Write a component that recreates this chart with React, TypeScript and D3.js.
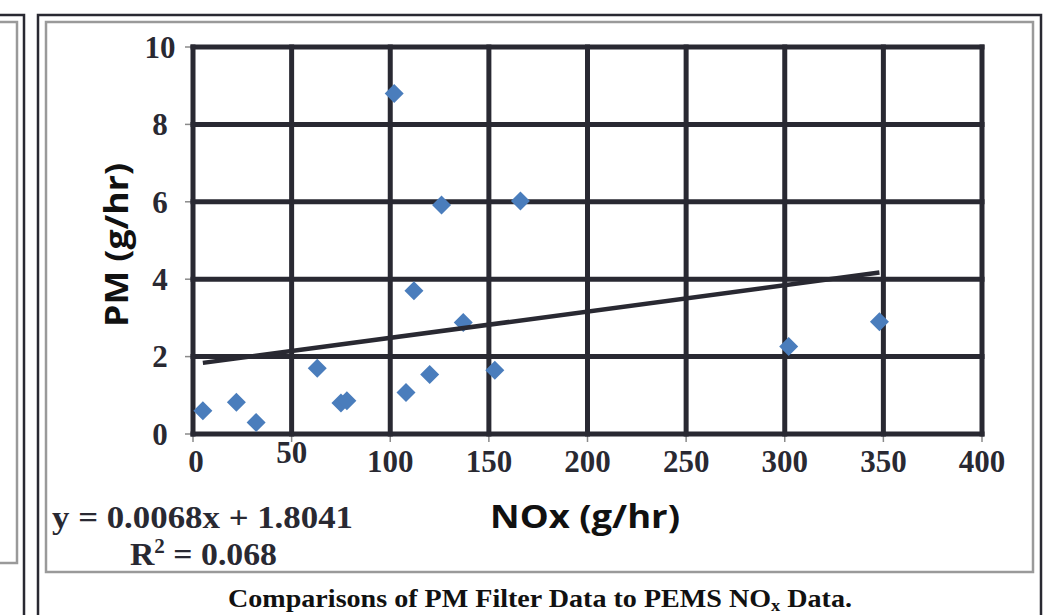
import React from "react";
import * as d3 from "d3";

// NOx (g/hr) vs PM (g/hr)
const noxValues = [5, 22, 32, 63, 75, 78, 102, 108, 112, 120, 126, 137, 153, 166, 302, 348];
const pmValues = [0.6, 0.82, 0.3, 1.7, 0.8, 0.86, 8.8, 1.07, 3.7, 1.54, 5.92, 2.88, 1.65, 6.02, 2.26, 2.9];
const xTicks = [0, 50, 100, 150, 200, 250, 300, 350, 400];
const yTicks = [0, 2, 4, 6, 8, 10];
const slope = 0.0068;
const intercept = 1.8041;

const W = 1051;
const H = 615;
const ink = "#292932";
const serif = "'Liberation Serif', 'Times New Roman', serif";
const sans = "'Open Sans', 'Noto Sans', sans-serif";

export default function App() {
  const x = d3.scaleLinear().domain([0, 400]).range([193, 982]);
  const y = d3.scaleLinear().domain([0, 10]).range([434, 47]);

  const pts = noxValues.map((v, i) => ({ nx: v, pm: pmValues[i] }));
  const xMin = d3.min(noxValues) as number;
  const xMax = d3.max(noxValues) as number;
  const trend = d3.line<number>()
    .x(d => x(d))
    .y(d => y(slope * d + intercept))([xMin, xMax]);

  const r = 9.5;
  const diamond = `M0,${-r}L${r},0L0,${r}L${-r},0Z`;

  return (
    <svg width={W} height={H} style={{ position: "absolute", left: 0, top: 0, background: "white" }}>
      {/* page frames */}
      <g fill="none">
        <path d="M0,15H24V615" stroke={ink} strokeWidth={2.5} />
        <path d="M0,22H17V563H0" stroke="#9a9a9a" strokeWidth={2.5} />
        <path d="M38,615V15H1041V615" stroke={ink} strokeWidth={2.5} />
        <path d="M46,572V22H1033V572Z" stroke="#9a9a9a" strokeWidth={2.5} />
      </g>

      {/* small ticks */}
      <g stroke="#8a8a8a" strokeWidth={1.5}>
        {yTicks.map(t => <line key={"yt" + t} x1={185} x2={193} y1={y(t)} y2={y(t)} />)}
        {xTicks.map(t => <line key={"xt" + t} x1={x(t)} x2={x(t)} y1={434} y2={442} />)}
      </g>

      {/* heavy grid */}
      <g stroke={ink} strokeWidth={5} strokeLinecap="square">
        {yTicks.map(t => <line key={"gy" + t} x1={x(0)} x2={x(400)} y1={y(t)} y2={y(t)} />)}
        {xTicks.map(t => <line key={"gx" + t} x1={x(t)} x2={x(t)} y1={y(0)} y2={y(10)} />)}
      </g>

      {/* points */}
      <g fill="#4a7dbc">
        {pts.map((p, i) => (
          <path key={i} d={diamond} transform={`translate(${x(p.nx)},${y(p.pm)})`} />
        ))}
      </g>

      {/* trend line */}
      <path d={trend ?? ""} fill="none" stroke={ink} strokeWidth={4.5} />

      {/* tick labels */}
      <g fontFamily={serif} fontWeight="bold" fontSize={31} fill={ink}>
        {yTicks.map(t => (
          <text key={"yl" + t} x={160} y={y(t)} dy="0.35em" textAnchor="middle">{t}</text>
        ))}
        {xTicks.map(t => (
          <text key={"xl" + t} x={x(t) + (t === 0 ? 3 : 0)} y={t === 50 ? 463 : 472} textAnchor="middle">{t}</text>
        ))}
      </g>

      {/* axis titles */}
      <text x={585} y={528} textAnchor="middle" fontFamily={sans} fontWeight="bold" fontSize={33}
        textLength={190} lengthAdjust="spacingAndGlyphs" fill="#111">NOx (g/hr)</text>
      <text transform="translate(128,245) rotate(-90)" textAnchor="middle" fontFamily={sans}
        fontWeight="bold" fontSize={32} textLength={164} lengthAdjust="spacingAndGlyphs" fill="#111">PM (g/hr)</text>

      {/* regression label */}
      <g fontFamily={serif} fontWeight="bold" fontSize={32} fill={ink}>
        <text x={52} y={528} textLength={301} lengthAdjust="spacingAndGlyphs">y = 0.0068x + 1.8041</text>
        <text x={130} y={565} textLength={147} lengthAdjust="spacingAndGlyphs">
          R<tspan fontSize={20} dy={-12}>2</tspan><tspan dy={12}> = 0.068</tspan>
        </text>
      </g>

      {/* caption */}
      <text x={540} y={607} textAnchor="middle" fontFamily={serif} fontWeight="bold" fontSize={26}
        fill="#111" textLength={624} lengthAdjust="spacingAndGlyphs">
        Comparisons of PM Filter Data to PEMS NO<tspan fontSize={17} dy={4}>x</tspan><tspan dy={-4}> Data.</tspan>
      </text>
    </svg>
  );
}
